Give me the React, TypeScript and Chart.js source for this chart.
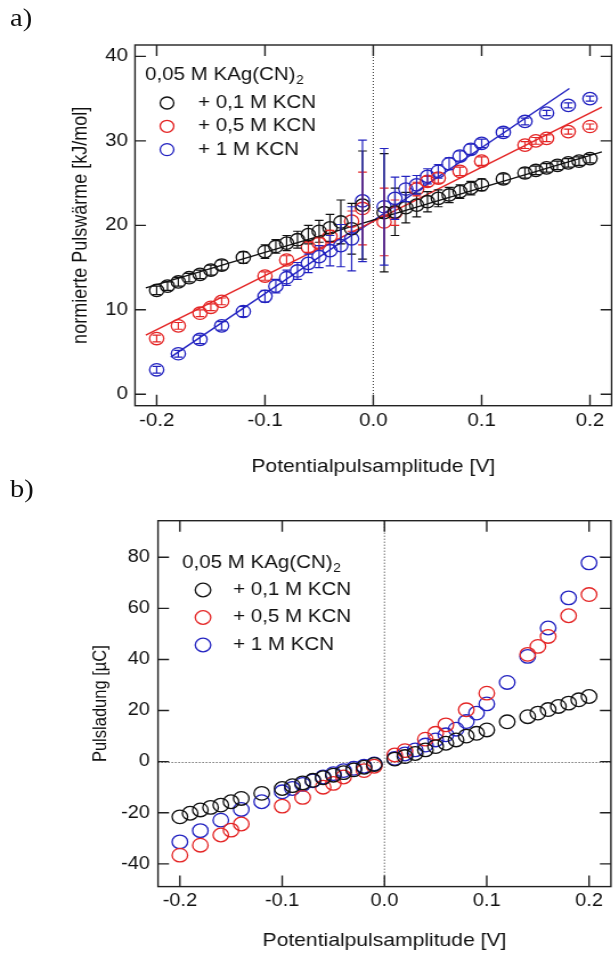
import React, { useEffect, useRef } from "react";
import { Chart, registerables } from "chart.js";
Chart.register(...registerables);

const FONT = "'Liberation Sans', Arial, sans-serif";
const STRETCH = 1.14; // the reference figure is horizontally stretched
const CW = 544; // internal canvas width (page width = CW * STRETCH)

// ---------- shared ----------
const seriesLabels = ["+ 0,1 M KCN", "+ 0,5 M KCN", "+ 1 M KCN"];
const seriesColors = ["#111111", "#e42525", "#2222c0"];
const legendTitle = "0,05 M KAg(CN)";
const legendSub = "2";
const xTicks = [-0.2, -0.1, 0, 0.1, 0.2];

// ---------- panel a) ----------
const aYTicks = [0, 10, 20, 30, 40];
const aBlkX = [-0.2, -0.19, -0.18, -0.17, -0.16, -0.15, -0.14, -0.12, -0.1, -0.09, -0.08, -0.07, -0.06, -0.05, -0.04, -0.03, -0.02, -0.01, 0.01, 0.02, 0.03, 0.04, 0.05, 0.06, 0.07, 0.08, 0.09, 0.1, 0.12, 0.14, 0.15, 0.16, 0.17, 0.18, 0.19, 0.2];
const aBlkY = [12.3, 12.8, 13.3, 13.8, 14.2, 14.7, 15.3, 16.2, 16.9, 17.5, 17.9, 18.3, 18.9, 19.3, 19.7, 20.4, 19.6, 22.4, 21.5, 21.6, 22.1, 22.4, 22.8, 23.2, 23.6, 24.0, 24.4, 24.8, 25.5, 26.2, 26.5, 26.8, 27.1, 27.4, 27.6, 27.9];
const aBlkErr = [0.5, 0.5, 0.5, 0.5, 0.5, 0.6, 0.6, 0.7, 0.8, 0.8, 0.9, 1.0, 1.1, 1.3, 1.6, 2.6, 3.0, 6.4, 7.0, 2.8, 1.8, 1.4, 1.2, 1.0, 0.9, 0.8, 0.8, 0.7, 0.6, 0.6, 0.5, 0.5, 0.5, 0.5, 0.5, 0.5];

const aRedX = [-0.2, -0.18, -0.16, -0.15, -0.14, -0.1, -0.08, -0.06, -0.05, -0.04, -0.02, -0.01, 0.01, 0.02, 0.04, 0.05, 0.06, 0.08, 0.1, 0.14, 0.15, 0.16, 0.18, 0.2];
const aRedY = [6.6, 8.1, 9.6, 10.3, 11.0, 14.0, 15.9, 17.4, 17.9, 18.7, 20.5, 22.0, 20.4, 21.5, 24.3, 25.2, 25.6, 26.4, 27.6, 29.5, 30.0, 30.3, 31.1, 31.7];
const aRedErr = [0.4, 0.4, 0.4, 0.4, 0.4, 0.5, 0.5, 0.6, 0.6, 0.7, 1.2, 4.3, 4.0, 1.5, 0.8, 0.6, 0.6, 0.5, 0.5, 0.4, 0.4, 0.4, 0.3, 0.3];

const aBluX = [-0.2, -0.18, -0.16, -0.14, -0.12, -0.1, -0.09, -0.08, -0.07, -0.06, -0.05, -0.04, -0.03, -0.02, -0.01, 0.01, 0.02, 0.03, 0.04, 0.05, 0.06, 0.07, 0.08, 0.09, 0.1, 0.12, 0.14, 0.16, 0.18, 0.2];
const aBluY = [2.9, 4.8, 6.5, 8.1, 9.8, 11.6, 12.8, 13.8, 14.6, 15.5, 16.3, 17.0, 17.6, 18.4, 22.9, 22.2, 23.2, 24.3, 24.8, 25.8, 26.4, 27.3, 28.2, 29.0, 29.7, 31.0, 32.3, 33.3, 34.2, 35.0];
const aBluErr = [0.4, 0.4, 0.5, 0.5, 0.6, 0.7, 0.8, 0.9, 1.0, 1.1, 1.3, 1.8, 2.5, 3.8, 7.2, 6.9, 2.5, 1.5, 1.1, 0.9, 0.8, 0.7, 0.6, 0.6, 0.5, 0.5, 0.4, 0.3, 0.3, 0.3];

const aFitBlkX = [-0.21, 0.211];
const aFitBlkY = [12.6, 28.7];
const aFitRedX = [-0.21, 0.211];
const aFitRedY = [7.0, 34.0];
const aFitBluX = [-0.187, 0.181];
const aFitBluY = [4.4, 36.2];

// ---------- panel b) ----------
const bYTicks = [-40, -20, 0, 20, 40, 60, 80];
const bBlkY = [-21.6, -20.2, -18.9, -17.9, -17.0, -15.7, -14.4, -12.4, -10.5, -9.4, -8.3, -7.3, -6.3, -5.3, -4.3, -3.2, -2.2, -1.1, 1.0, 2.0, 3.2, 4.6, 5.9, 7.2, 8.5, 10.0, 11.1, 12.4, 15.6, 17.6, 19.0, 20.4, 21.6, 22.9, 24.2, 25.5];
const bRedY = [-36.6, -32.7, -28.7, -26.8, -24.4, -17.4, -14.0, -10.0, -8.5, -6.0, -3.5, -1.8, 2.6, 4.3, 8.8, 11.1, 14.4, 20.3, 26.8, 42.0, 45.1, 49.0, 57.1, 65.4];
const bBluY = [-31.4, -27.0, -22.9, -18.7, -15.7, -11.8, -10.5, -8.9, -7.5, -6.0, -4.7, -3.5, -2.6, -1.8, -0.9, 1.3, 3.0, 4.6, 6.5, 8.5, 10.5, 12.7, 15.7, 19.0, 22.6, 31.0, 41.2, 52.3, 64.1, 77.8];

const pts = (xs: number[], ys: number[]) => xs.map((x, i) => ({ x, y: ys[i] }));

// ---------- plugins ----------
const framePlugin = {
  id: "frame",
  beforeDatasetsDraw(chart: any, _a: any, o: any) {
    const { ctx, chartArea: a, scales } = chart;
    ctx.save();
    ctx.strokeStyle = "#333";
    ctx.lineWidth = 1;
    ctx.setLineDash([1, 2]);
    if (o.zeroX) {
      const px = scales.x.getPixelForValue(0);
      ctx.beginPath(); ctx.moveTo(px, a.top); ctx.lineTo(px, a.bottom); ctx.stroke();
    }
    if (o.zeroY) {
      const py = Math.round(scales.y.getPixelForValue(0)) + 0.5;
      ctx.beginPath(); ctx.moveTo(a.left, py); ctx.lineTo(a.right, py); ctx.stroke();
    }
    ctx.restore();
  },
  afterDraw(chart: any, _a: any, o: any) {
    const { ctx, chartArea: a, scales } = chart;
    const L = o.tick || 11;
    ctx.save();
    ctx.strokeStyle = "#222";
    ctx.lineWidth = 1.4;
    ctx.strokeRect(a.left, a.top, a.right - a.left, a.bottom - a.top);
    ctx.beginPath();
    scales.x.ticks.forEach((t: any) => {
      const px = scales.x.getPixelForValue(t.value);
      ctx.moveTo(px, a.bottom); ctx.lineTo(px, a.bottom - L);
      ctx.moveTo(px, a.top); ctx.lineTo(px, a.top + L);
    });
    scales.y.ticks.forEach((t: any) => {
      const py = scales.y.getPixelForValue(t.value);
      ctx.moveTo(a.left, py); ctx.lineTo(a.left + L / STRETCH, py);
      ctx.moveTo(a.right, py); ctx.lineTo(a.right - L / STRETCH, py);
    });
    ctx.stroke();
    ctx.restore();
  },
};

const errorBarPlugin = {
  id: "errbars",
  afterDatasetsDraw(chart: any) {
    const { ctx, chartArea: a, scales } = chart;
    ctx.save();
    ctx.beginPath();
    ctx.rect(a.left, a.top, a.right - a.left, a.bottom - a.top);
    ctx.clip();
    chart.data.datasets.forEach((ds: any, di: number) => {
      if (!ds.errors) return;
      const meta = chart.getDatasetMeta(di);
      ctx.strokeStyle = ds.borderColor;
      ctx.lineWidth = 1.2;
      ctx.beginPath();
      meta.data.forEach((el: any, i: number) => {
        const e = ds.errors[i];
        const v = ds.data[i].y;
        const px = el.x;
        const y1 = scales.y.getPixelForValue(v + e);
        const y2 = scales.y.getPixelForValue(v - e);
        const c = 3.8;
        ctx.moveTo(px, y1); ctx.lineTo(px, y2);
        ctx.moveTo(px - c, y1); ctx.lineTo(px + c, y1);
        ctx.moveTo(px - c, y2); ctx.lineTo(px + c, y2);
      });
      ctx.stroke();
    });
    ctx.restore();
  },
};

const legendPlugin = {
  id: "panelLegend",
  afterDraw(chart: any, _a: any, o: any) {
    const ctx = chart.ctx;
    ctx.save();
    ctx.fillStyle = "#111";
    ctx.textAlign = "left";
    ctx.textBaseline = "middle";
    ctx.font = `${o.size}px ${FONT}`;
    ctx.fillText(legendTitle, o.titleX, o.titleY);
    const w = ctx.measureText(legendTitle).width;
    ctx.font = `${Math.round(o.size * 0.68)}px ${FONT}`;
    ctx.fillText(legendSub, o.titleX + w + 0.5, o.titleY + o.size * 0.32);
    ctx.font = `${o.size}px ${FONT}`;
    seriesLabels.forEach((lab, i) => {
      const cy = o.firstY + i * o.gap;
      ctx.beginPath();
      ctx.arc(o.markX, cy, o.r, 0, Math.PI * 2);
      ctx.strokeStyle = seriesColors[i];
      ctx.lineWidth = 1.3;
      ctx.stroke();
      ctx.fillText(lab, o.textX, cy);
    });
    ctx.restore();
  },
};

function scatterSet(xs: number[], ys: number[], color: string, r: number, errors?: number[]) {
  return {
    data: pts(xs, ys),
    borderColor: color,
    backgroundColor: "rgba(0,0,0,0)",
    pointBorderColor: color,
    pointBackgroundColor: "rgba(0,0,0,0)",
    pointRadius: r,
    pointBorderWidth: 1.3,
    showLine: false,
    errors,
  };
}
function fitSet(xs: number[], ys: number[], color: string) {
  return {
    data: pts(xs, ys),
    borderColor: color,
    borderWidth: 1.4,
    pointRadius: 0,
    showLine: true,
    fill: false,
  };
}

const px = (pageX: number) => pageX / STRETCH;

function makeConfig(p: any) {
  return {
    type: "scatter",
    data: { datasets: p.datasets },
    plugins: [framePlugin, errorBarPlugin, legendPlugin],
    options: {
      responsive: false,
      animation: false,
      devicePixelRatio: 1,
      layout: { padding: p.padding },
      plugins: {
        legend: { display: false },
        tooltip: { enabled: false },
        frame: { zeroX: true, zeroY: p.zeroY, tick: 11 },
        panelLegend: p.legend,
      },
      scales: {
        x: {
          type: "linear",
          min: p.xMin,
          max: p.xMax,
          grid: { display: false, drawTicks: false },
          border: { display: false },
          afterBuildTicks: (s: any) => { s.ticks = xTicks.map((v) => ({ value: v })); },
          afterFit: (s: any) => {
            s.height = p.xAxisH;
            s.paddingLeft = 0;
            s.paddingRight = 0;
          },
          ticks: {
            autoSkip: false,
            maxRotation: 0,
            padding: p.xTickPad,
            color: "#111",
            font: { family: FONT, size: p.tickSize },
            callback: (v: any) => Number(v).toFixed(1),
          },
          title: {
            display: true,
            text: "Potentialpulsamplitude [V]",
            color: "#111",
            font: { family: FONT, size: p.xTitleSize },
            padding: { top: 0, bottom: p.xTitlePad },
          },
        },
        y: {
          type: "linear",
          min: p.yMin,
          max: p.yMax,
          grid: { display: false, drawTicks: false },
          border: { display: false },
          afterBuildTicks: (s: any) => { s.ticks = p.yTicks.map((v: number) => ({ value: v })); },
          afterFit: (s: any) => {
            s.width = p.yAxisW;
            s.paddingTop = 0;
            s.paddingBottom = 0;
          },
          ticks: {
            autoSkip: false,
            padding: p.yTickPad,
            color: "#111",
            font: { family: FONT, size: p.tickSize },
            callback: (v: any) => String(v),
          },
          title: {
            display: true,
            text: p.yTitle,
            color: "#111",
            font: { family: FONT, size: p.yTitleSize },
            padding: { top: p.yTitlePad, bottom: 0 },
          },
        },
      },
    },
  };
}

const configA = () =>
  makeConfig({
    datasets: [
      scatterSet(aBlkX, aBlkY, seriesColors[0], 6.2, aBlkErr),
      scatterSet(aRedX, aRedY, seriesColors[1], 6.2, aRedErr),
      scatterSet(aBluX, aBluY, seriesColors[2], 6.2, aBluErr),
      fitSet(aFitBlkX, aFitBlkY, seriesColors[0]),
      fitSet(aFitRedX, aFitRedY, seriesColors[1]),
      fitSet(aFitBluX, aFitBluY, seriesColors[2]),
    ],
    padding: { top: 45, right: CW - px(614.5), left: 0, bottom: 0 },
    xMin: -0.22,
    xMax: 0.22,
    yMin: -1.35,
    yMax: 41.35,
    yTicks: aYTicks,
    zeroY: false,
    xAxisH: 84.3,
    yAxisW: px(135),
    tickSize: 18,
    xTitleSize: 18.5,
    yTitleSize: 18,
    xTickPad: 4.5,
    yTickPad: px(7),
    xTitlePad: 12,
    yTitlePad: px(81) - 10.8,
    yTitle: "normierte Pulswärme [kJ/mol]",
    legend: { size: 18, titleX: px(145), titleY: 75, firstY: 103, gap: 23.3, markX: px(167), textX: px(198), r: 6 },
  });

const configB = () =>
  makeConfig({
    datasets: [
      scatterSet(aBlkX, bBlkY, seriesColors[0], 6.8),
      scatterSet(aRedX, bRedY, seriesColors[1], 6.8),
      scatterSet(aBluX, bBluY, seriesColors[2], 6.8),
    ],
    padding: { top: 30.7, right: CW - px(616.6), left: 0, bottom: 0 },
    xMin: -0.2214,
    xMax: 0.2214,
    yMin: -48.9,
    yMax: 94.3,
    yTicks: bYTicks,
    zeroY: true,
    xAxisH: 68.4,
    yAxisW: px(158),
    tickSize: 17.5,
    xTitleSize: 18.5,
    yTitleSize: 16.5,
    xTickPad: 4,
    yTickPad: px(8),
    xTitlePad: 3,
    yTitlePad: px(101) - 9.9,
    yTitle: "Pulsladung [µC]",
    legend: { size: 18, titleX: px(182), titleY: 73, firstY: 100, gap: 27.5, markX: px(203), textX: px(233), r: 6.8 },
  });

export default function App() {
  const refA = useRef<HTMLCanvasElement>(null);
  const refB = useRef<HTMLCanvasElement>(null);
  useEffect(() => {
    const ca = new Chart(refA.current as HTMLCanvasElement, configA() as any);
    const cb = new Chart(refB.current as HTMLCanvasElement, configB() as any);
    return () => {
      ca.destroy();
      cb.destroy();
    };
  }, []);
  const lab: React.CSSProperties = {
    position: "absolute",
    left: px(10),
    fontFamily: "'Liberation Serif', 'Times New Roman', serif",
    fontSize: 25,
    lineHeight: "25px",
    color: "#111",
  };
  return (
    <div style={{ position: "absolute", left: 0, top: 0, width: 613, height: 955, overflow: "hidden", background: "#fff" }}>
      <div
        style={{
          position: "absolute",
          left: 0,
          top: 0,
          width: CW,
          height: 955,
          transform: `scaleX(${STRETCH})`,
          transformOrigin: "0 0",
        }}
      >
        <canvas ref={refA} width={CW} height={490} style={{ position: "absolute", left: 0, top: 0 }} />
        <canvas ref={refB} width={CW} height={465} style={{ position: "absolute", left: 0, top: 490 }} />
        <div style={{ ...lab, top: 5 }}>a)</div>
        <div style={{ ...lab, top: 476 }}>b)</div>
      </div>
    </div>
  );
}
